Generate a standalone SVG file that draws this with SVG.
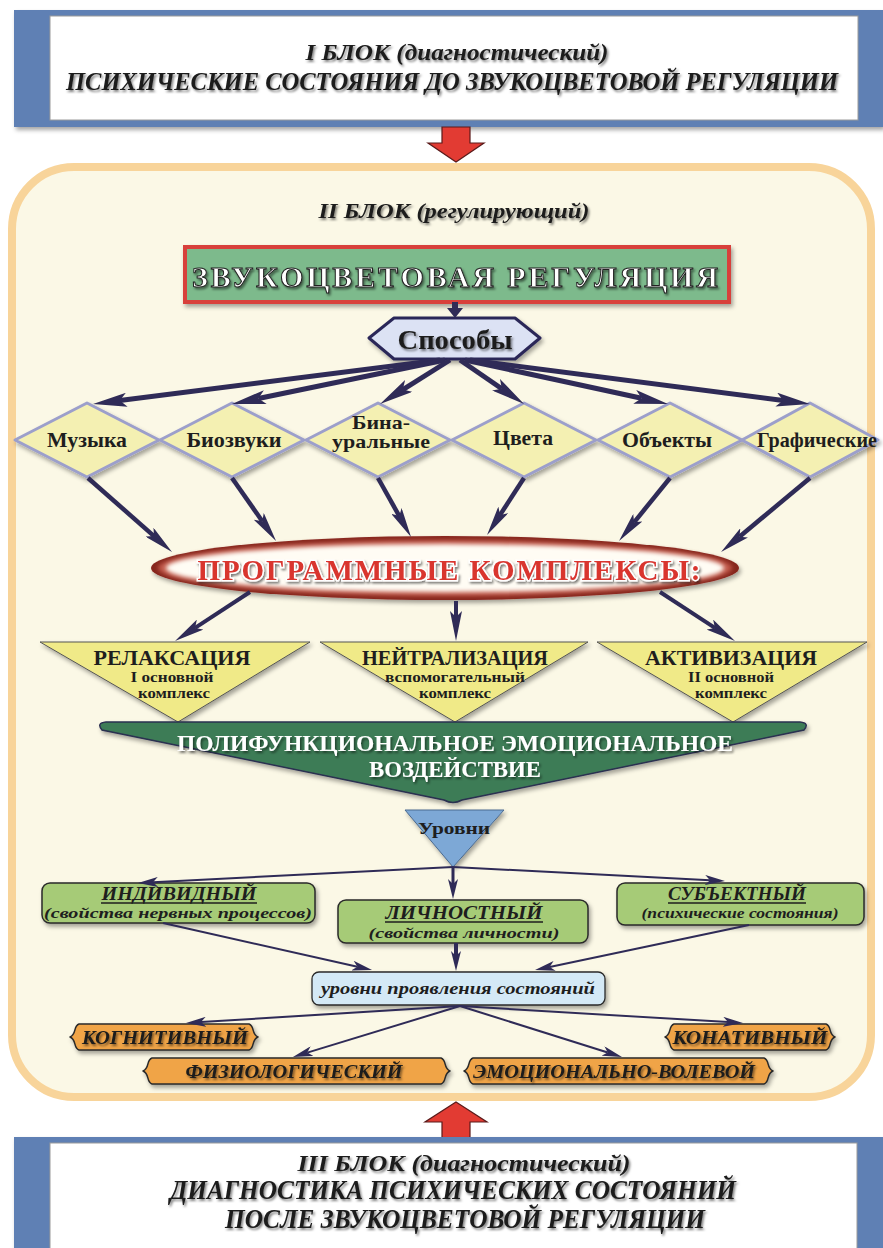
<svg xmlns="http://www.w3.org/2000/svg" width="883" height="1248" viewBox="0 0 883 1248">
<defs>
<style>
.hd{font-family:"Liberation Serif",serif;font-weight:bold;font-style:italic;text-anchor:middle;fill:#1b1b1b;filter:url(#tsh)}
.bs{font-family:"Liberation Serif",serif;font-weight:bold;text-anchor:middle;fill:#1e1e1e}
.it{font-family:"Liberation Serif",serif;font-style:italic;font-weight:bold;text-anchor:middle;fill:#1e1e1e}
.c{fill:none;stroke:#2F2B57;stroke-linecap:butt}
.dia{fill:#F4F0B2;stroke:#9C9FCB;stroke-width:3;stroke-linejoin:round;filter:url(#sh)}
.tri{fill:#F0EA88;stroke:#555;stroke-width:1;stroke-linejoin:round;filter:url(#sh)}
.lvl{fill:#A6CB77;stroke:#2a2a2a;stroke-width:1.5;filter:url(#sh)}
.ban{fill:#F0A447;stroke:#2a2a2a;stroke-width:1.5;stroke-linejoin:round;filter:url(#sh)}
.ul{stroke:#1e1e1e;stroke-width:1.3}
</style>
<filter id="sh" x="-10%" y="-10%" width="130%" height="150%"><feDropShadow dx="2" dy="3" stdDeviation="2" flood-color="#000" flood-opacity="0.35"/></filter>
<filter id="tsh" x="-5%" y="-30%" width="110%" height="180%"><feDropShadow dx="1.5" dy="2" stdDeviation="1" flood-color="#000" flood-opacity="0.5"/></filter>
<filter id="bl" x="-5%" y="-20%" width="110%" height="140%"><feGaussianBlur stdDeviation="2"/></filter>
<marker id="ha" markerUnits="userSpaceOnUse" markerWidth="34" markerHeight="14" viewBox="0 0 34 14" refX="7" refY="7" orient="auto"><path d="M0,0 L34,7 L0,14 L7,7 z" fill="#2F2B57"/></marker>
<marker id="hb" markerUnits="userSpaceOnUse" markerWidth="30" markerHeight="12" viewBox="0 0 30 12" refX="6" refY="6" orient="auto"><path d="M0,0 L30,6 L0,12 L6,6 z" fill="#2F2B57"/></marker>
<marker id="hc" markerUnits="userSpaceOnUse" markerWidth="20" markerHeight="10" viewBox="0 0 20 10" refX="5" refY="5" orient="auto"><path d="M0,0 L20,5 L0,10 L5,5 z" fill="#2F2B57"/></marker>
</defs>

<rect width="883" height="1248" fill="#ffffff"/>

<g id="block1">
<rect x="14" y="10" width="869" height="117" fill="#5F80B4" filter="url(#sh)"/>
<rect x="50" y="16" width="808" height="104" fill="#ffffff" stroke="#9a9a9a" stroke-width="1"/>
<text class="hd" x="457" y="60" font-size="23" textLength="303" lengthAdjust="spacingAndGlyphs">I БЛОК (диагностический)</text>
<text class="hd" x="452" y="90" font-size="26" textLength="772" lengthAdjust="spacingAndGlyphs">ПСИХИЧЕСКИЕ СОСТОЯНИЯ ДО ЗВУКОЦВЕТОВОЙ РЕГУЛЯЦИИ</text>
</g>

<g id="arrow-down">
<polygon points="442,127 470,127 470,143 484,143 456,162 428,143 442,143" fill="#E23B33" stroke="#5a1a1a" stroke-width="1.2"/>
</g>

<g id="block2">
<rect x="12" y="167" width="859" height="930" rx="62" fill="#FBF8E6" stroke="#F8D49A" stroke-width="8"/>
<text class="hd" x="454" y="218" font-size="21" textLength="271" lengthAdjust="spacingAndGlyphs">II БЛОК (регулирующий)</text>
</g>

<g id="regulation">
<rect x="185" y="247" width="544" height="55" fill="#7DBA8C" stroke="#D8403A" stroke-width="4" filter="url(#sh)"/>
<text x="455" y="287" font-family="Liberation Serif, serif" font-weight="bold" font-size="30" text-anchor="middle" fill="#ffffff" stroke="#222" stroke-width="1" textLength="526" lengthAdjust="spacing" filter="url(#tsh)">ЗВУКОЦВЕТОВАЯ РЕГУЛЯЦИЯ</text>
</g>

<g id="sposoby">
<polygon points="369,338 394,318 515,318 540,338 515,359 394,359" fill="#DCE2F4" stroke="#2B2858" stroke-width="3" stroke-linejoin="round" filter="url(#sh)"/>
<text class="bs" x="455" y="349" font-size="27" textLength="115" lengthAdjust="spacingAndGlyphs" filter="url(#tsh)">Способы</text>
</g>

<g id="d-muzyka"><polygon class="dia" points="15,440 87,403 159,440 87,477"/><text class="bs" x="87" y="447" font-size="21" textLength="80" lengthAdjust="spacingAndGlyphs">Музыка</text></g>
<g id="d-biozvuki"><polygon class="dia" points="160,440 232,403 304,440 232,477"/><text class="bs" x="234" y="447" font-size="21" textLength="95" lengthAdjust="spacingAndGlyphs">Биозвуки</text></g>
<g id="d-binaural"><polygon class="dia" points="306,440 378,403 450,440 378,477"/><text class="bs" x="381" y="429" font-size="19" textLength="58" lengthAdjust="spacingAndGlyphs">Бина-</text><text class="bs" x="381" y="448" font-size="19" textLength="98" lengthAdjust="spacingAndGlyphs">уральные</text></g>
<g id="d-tsveta"><polygon class="dia" points="452,440 524,403 596,440 524,477"/><text class="bs" x="523" y="445" font-size="21" textLength="60" lengthAdjust="spacingAndGlyphs">Цвета</text></g>
<g id="d-obekty"><polygon class="dia" points="598,440 670,403 742,440 670,477"/><text class="bs" x="667" y="447" font-size="21" textLength="90" lengthAdjust="spacingAndGlyphs">Объекты</text></g>
<g id="d-graficheskie"><polygon class="dia" points="742,440 810,403 878,440 810,477"/><text class="bs" x="817" y="447" font-size="21" textLength="120" lengthAdjust="spacingAndGlyphs">Графические</text></g>

<g id="programs">
<ellipse cx="445" cy="568" rx="294" ry="32" fill="#86261F" filter="url(#sh)"/>
<ellipse cx="445" cy="568" rx="287" ry="28" fill="#C25A4C" filter="url(#bl)"/>
<ellipse cx="445" cy="568" rx="279" ry="24" fill="#FFFCF4" filter="url(#bl)"/>
<text x="449" y="580" font-family="Liberation Serif, serif" font-weight="bold" font-size="29" text-anchor="middle" fill="#D9342E" stroke="#ffffff" stroke-width="3" paint-order="stroke" textLength="503" lengthAdjust="spacing" filter="url(#tsh)">ПРОГРАММНЫЕ КОМПЛЕКСЫ:</text>
</g>

<g id="t-relax">
<polygon class="tri" points="40,642 310,642 178,722"/>
<text class="bs" x="172" y="665" font-size="22" textLength="157" lengthAdjust="spacingAndGlyphs">РЕЛАКСАЦИЯ</text>
<text class="bs" x="172" y="682" font-size="15" textLength="83" lengthAdjust="spacingAndGlyphs">I основной</text>
<text class="bs" x="174" y="698" font-size="15" textLength="72" lengthAdjust="spacingAndGlyphs">комплекс</text>
</g>
<g id="t-neutral">
<polygon class="tri" points="320,642 588,642 455,722"/>
<text class="bs" x="455" y="665" font-size="22" textLength="186" lengthAdjust="spacingAndGlyphs">НЕЙТРАЛИЗАЦИЯ</text>
<text class="bs" x="455" y="682" font-size="15" textLength="140" lengthAdjust="spacingAndGlyphs">вспомогательный</text>
<text class="bs" x="455" y="698" font-size="15" textLength="72" lengthAdjust="spacingAndGlyphs">комплекс</text>
</g>
<g id="t-activ">
<polygon class="tri" points="597,642 867,642 733,722"/>
<text class="bs" x="731" y="665" font-size="22" textLength="172" lengthAdjust="spacingAndGlyphs">АКТИВИЗАЦИЯ</text>
<text class="bs" x="731" y="682" font-size="15" textLength="86" lengthAdjust="spacingAndGlyphs">II основной</text>
<text class="bs" x="731" y="698" font-size="15" textLength="72" lengthAdjust="spacingAndGlyphs">комплекс</text>
</g>

<g id="polyfunc">
<path d="M106,722 L800,722 Q810,723 804,730 L462,800 Q453,805 444,800 L102,730 Q96,723 106,722 Z" fill="#3E7B57" stroke="#2a3050" stroke-width="1.5" filter="url(#sh)"/>
<text x="455" y="751" font-family="Liberation Serif, serif" font-weight="bold" font-size="24" text-anchor="middle" fill="#ffffff" textLength="556" lengthAdjust="spacingAndGlyphs" filter="url(#tsh)">ПОЛИФУНКЦИОНАЛЬНОЕ ЭМОЦИОНАЛЬНОЕ</text>
<text x="455" y="777" font-family="Liberation Serif, serif" font-weight="bold" font-size="24" text-anchor="middle" fill="#ffffff" textLength="172" lengthAdjust="spacingAndGlyphs" filter="url(#tsh)">ВОЗДЕЙСТВИЕ</text>
</g>

<g id="urovni">
<polygon points="405,810 504,810 453,867" fill="#7DA8D6" stroke="#4a6a90" stroke-width="1" stroke-linejoin="round" filter="url(#sh)"/>
<text class="bs" x="454" y="834" font-size="17" textLength="72" lengthAdjust="spacingAndGlyphs">Уровни</text>
</g>

<g id="l-individ">
<rect class="lvl" x="42" y="883" width="273" height="40" rx="8"/>
<text class="it" x="179" y="900" font-size="18" textLength="155" lengthAdjust="spacingAndGlyphs">ИНДИВИДНЫЙ</text>
<line class="ul" x1="101" y1="903" x2="257" y2="903"/>
<text class="it" x="178" y="918" font-size="15" textLength="268" lengthAdjust="spacingAndGlyphs">(свойства нервных процессов)</text>
</g>
<g id="l-lichnost">
<rect class="lvl" x="338" y="900" width="250" height="43" rx="8"/>
<text class="it" x="464" y="919" font-size="18" textLength="157" lengthAdjust="spacingAndGlyphs">ЛИЧНОСТНЫЙ</text>
<line class="ul" x1="385" y1="922" x2="543" y2="922"/>
<text class="it" x="464" y="938" font-size="15" textLength="191" lengthAdjust="spacingAndGlyphs">(свойства личности)</text>
</g>
<g id="l-subekt">
<rect class="lvl" x="617" y="883" width="247" height="42" rx="8"/>
<text class="it" x="737" y="900" font-size="18" textLength="138" lengthAdjust="spacingAndGlyphs">СУБЪЕКТНЫЙ</text>
<line class="ul" x1="668" y1="903" x2="806" y2="903"/>
<text class="it" x="740" y="918" font-size="15" textLength="197" lengthAdjust="spacingAndGlyphs">(психические состояния)</text>
</g>

<g id="manifest">
<rect x="312" y="972" width="293" height="33" rx="7" fill="#D4E9F6" stroke="#2a2a2a" stroke-width="1.3" filter="url(#sh)"/>
<text class="it" x="458" y="994" font-size="17" textLength="274" lengthAdjust="spacingAndGlyphs">уровни проявления состояний</text>
</g>

<g id="b-kognit">
<path class="ban" d="M79,1024 L249,1024 C255,1026 251,1034 258,1037 C251,1040 255,1048 249,1050 L79,1050 C73,1048 77,1040 70,1037 C77,1034 73,1026 79,1024 Z"/>
<text class="hd" x="165" y="1044" font-size="19" textLength="166" lengthAdjust="spacingAndGlyphs">КОГНИТИВНЫЙ</text>
</g>
<g id="b-konat">
<path class="ban" d="M674,1024 L826,1024 C832,1026 828,1034 835,1037 C828,1040 832,1048 826,1050 L674,1050 C668,1048 672,1040 665,1037 C672,1034 668,1026 674,1024 Z"/>
<text class="hd" x="750" y="1044" font-size="19" textLength="155" lengthAdjust="spacingAndGlyphs">КОНАТИВНЫЙ</text>
</g>
<g id="b-fiziol">
<path class="ban" d="M152,1058 L441,1058 C447,1060 443,1068 450,1071 C443,1074 447,1082 441,1084 L152,1084 C146,1082 150,1074 143,1071 C150,1068 146,1060 152,1058 Z"/>
<text class="hd" x="294" y="1078" font-size="19" textLength="217" lengthAdjust="spacingAndGlyphs">ФИЗИОЛОГИЧЕСКИЙ</text>
</g>
<g id="b-emotsion">
<path class="ban" d="M473,1058 L764,1058 C770,1060 766,1068 773,1071 C766,1074 770,1082 764,1084 L473,1084 C467,1082 471,1074 464,1071 C471,1068 467,1060 473,1058 Z"/>
<text class="hd" x="614" y="1078" font-size="19" textLength="282" lengthAdjust="spacingAndGlyphs">ЭМОЦИОНАЛЬНО-ВОЛЕВОЙ</text>
</g>

<g id="connectors">
<path d="M452,302 L458,302 L458,308 L463,308 L455,318 L447,308 L452,308 Z" fill="#2F2B57"/>
<path class="c" stroke-width="5" marker-end="url(#ha)" d="M440,360 L119.8,400.6"/>
<path class="c" stroke-width="5" marker-end="url(#ha)" d="M445,360 L258.4,398.5"/>
<path class="c" stroke-width="5" marker-end="url(#ha)" d="M450,360 L402.9,389.6"/>
<path class="c" stroke-width="5" marker-end="url(#ha)" d="M460,360 L501.8,388.7"/>
<path class="c" stroke-width="5" marker-end="url(#ha)" d="M465,360 L641.6,398.3"/>
<path class="c" stroke-width="5" marker-end="url(#ha)" d="M470,360 L783.2,400.5"/>
<path class="c" stroke-width="4.5" marker-end="url(#hb)" d="M88,478 L154,536.1"/>
<path class="c" stroke-width="4.5" marker-end="url(#hb)" d="M232,478 L262.3,521.3"/>
<path class="c" stroke-width="4.5" marker-end="url(#hb)" d="M378,478 L399.3,516.1"/>
<path class="c" stroke-width="4.5" marker-end="url(#hb)" d="M524,478 L500.1,514.9"/>
<path class="c" stroke-width="4.5" marker-end="url(#hb)" d="M670,478 L634.1,522.3"/>
<path class="c" stroke-width="4.5" marker-end="url(#hb)" d="M810,478 L739.5,536.7"/>
<path class="c" stroke-width="4" marker-end="url(#hb)" d="M250,592 L195.1,627.9"/>
<path class="c" stroke-width="4" marker-end="url(#hb)" d="M456,601 L456,617"/>
<path class="c" stroke-width="4" marker-end="url(#hb)" d="M660,592 L714.9,627.9"/>
<path class="c" stroke-width="2" marker-end="url(#hc)" d="M453,867 L153,882.2"/>
<path class="c" stroke-width="3" marker-end="url(#hc)" d="M453,867 L453,884"/>
<path class="c" stroke-width="2" marker-end="url(#hc)" d="M453,867 L710,880.2"/>
<path class="c" stroke-width="2" marker-end="url(#hc)" d="M163,923 L357.4,966.7"/>
<path class="c" stroke-width="4" marker-end="url(#hc)" d="M456,943 L456,956"/>
<path class="c" stroke-width="2" marker-end="url(#hc)" d="M749,925 L549.7,966.9"/>
<path class="c" stroke-width="2" marker-end="url(#hc)" d="M460,1006 L201,1022.1"/>
<path class="c" stroke-width="2" marker-end="url(#hc)" d="M460,1006 L307.3,1052.6"/>
<path class="c" stroke-width="2" marker-end="url(#hc)" d="M460,1006 L607.7,1052.5"/>
<path class="c" stroke-width="2" marker-end="url(#hc)" d="M460,1006 L728,1022.1"/>
</g>

<g id="arrow-up">
<polygon points="456,1102 487,1122 470,1122 470,1138 442,1138 442,1122 425,1122" fill="#E23B33" stroke="#5a1a1a" stroke-width="1.2"/>
</g>

<g id="block3">
<rect x="14" y="1137" width="869" height="120" fill="#5F80B4" filter="url(#sh)"/>
<rect x="50" y="1143" width="807" height="110" fill="#ffffff" stroke="#9a9a9a" stroke-width="1"/>
<text class="hd" x="464" y="1171" font-size="23" textLength="333" lengthAdjust="spacingAndGlyphs">III БЛОК  (диагностический)</text>
<text class="hd" x="453" y="1199" font-size="27" textLength="566" lengthAdjust="spacingAndGlyphs">ДИАГНОСТИКА ПСИХИЧЕСКИХ СОСТОЯНИЙ</text>
<text class="hd" x="465" y="1228" font-size="27" textLength="480" lengthAdjust="spacingAndGlyphs">ПОСЛЕ ЗВУКОЦВЕТОВОЙ РЕГУЛЯЦИИ</text>
</g>
</svg>
